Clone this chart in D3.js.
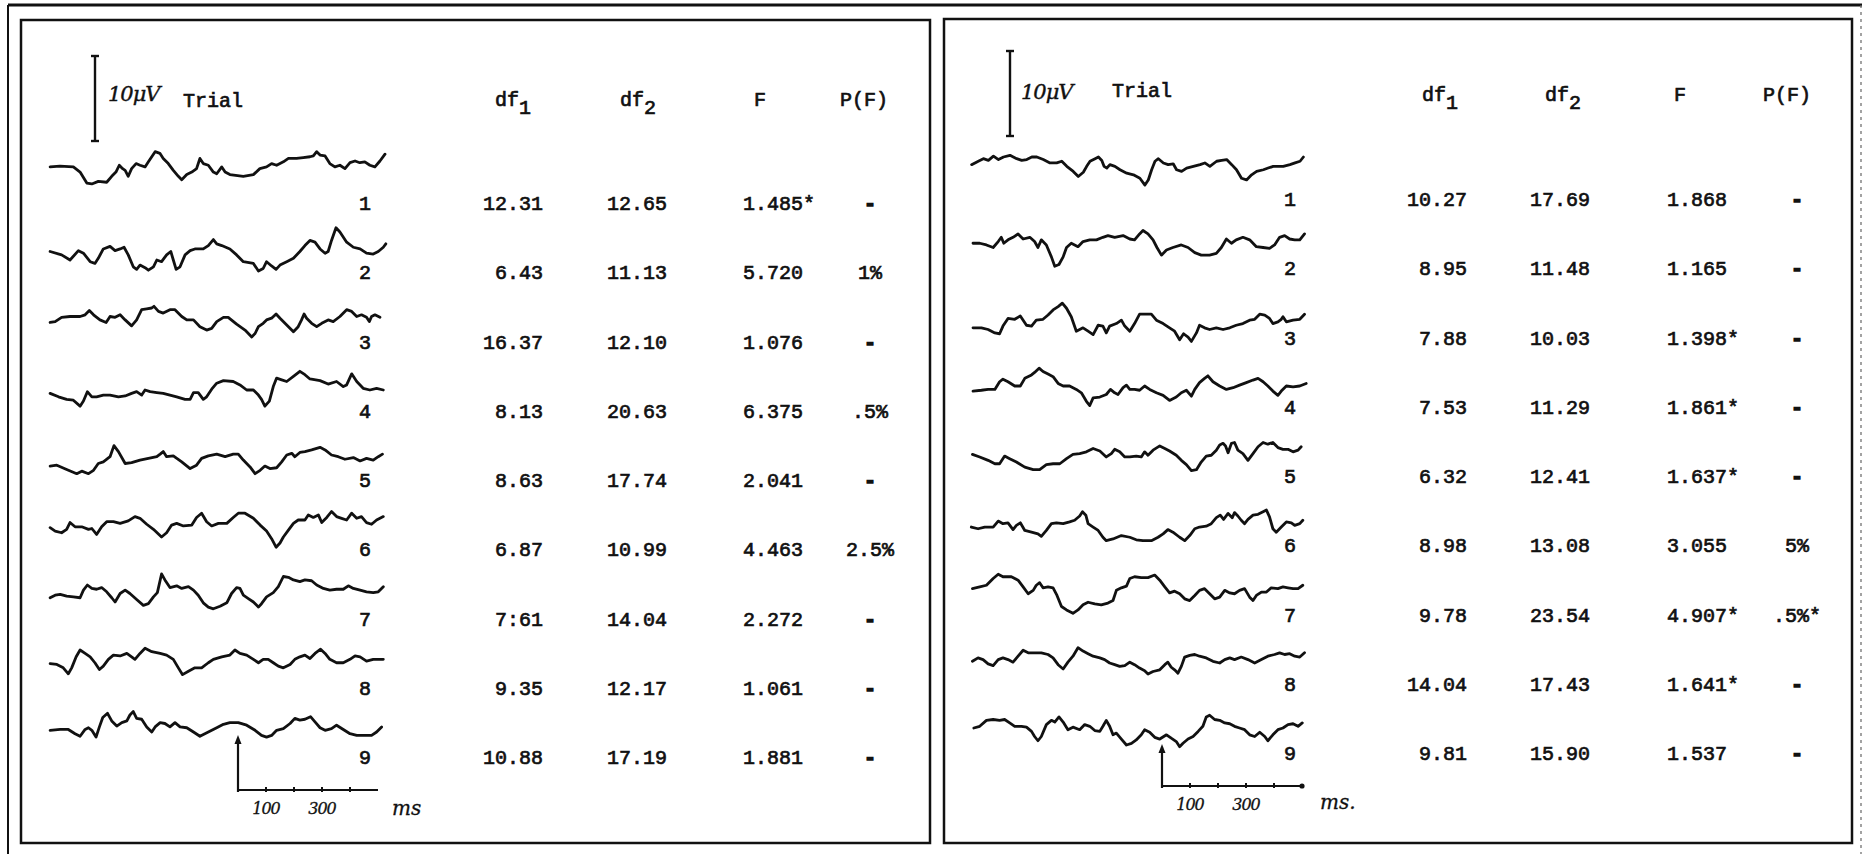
<!DOCTYPE html>
<html>
<head>
<meta charset="utf-8">
<script src="https://cdn.jsdelivr.net/npm/d3@7"></script>
<style>
  body { margin: 0; background: #fff; }
  svg text { fill: #111; }
</style>
</head>
<body>
<script>
// ---- values ----
var trials = ["1", "2", "3", "4", "5", "6", "7", "8", "9"];
var headers = ["df", "df", "F", "P(F)"];

var leftDf1 = ["12.31", "6.43", "16.37", "8.13", "8.63", "6.87", "7:61", "9.35", "10.88"];
var leftDf2 = ["12.65", "11.13", "12.10", "20.63", "17.74", "10.99", "14.04", "12.17", "17.19"];
var leftF = ["1.485*", "5.720", "1.076", "6.375", "2.041", "4.463", "2.272", "1.061", "1.881"];
var leftP = ["-", "1%", "-", ".5%", "-", "2.5%", "-", "-", "-"];

var rightDf1 = ["10.27", "8.95", "7.88", "7.53", "6.32", "8.98", "9.78", "14.04", "9.81"];
var rightDf2 = ["17.69", "11.48", "10.03", "11.29", "12.41", "13.08", "23.54", "17.43", "15.90"];
var rightF = ["1.868", "1.165", "1.398*", "1.861*", "1.637*", "3.055", "4.907*", "1.641*", "1.537"];
var rightP = ["-", "-", "-", "-", "-", "5%", ".5%*", "-", "-"];

var timeLabels = [100, 300];        // ms, written under the time bar
var timeTicks = [100, 200, 300, 400];
var timeEnd = 500;
var barMicroV = 10;

// traces: [ms from stimulus, microvolts]
var leftTraces = [
  [[-671,1.3],[-636,1.4],[-588,1.3],[-564,0.7],[-540,-0.6],[-522,-0.7],[-499,-0.4],[-469,-0.5],[-451,0.2],[-436,0.7],[-424,1.5],[-412,1.1],[-403,0.9],[-392,0.2],[-380,1.1],[-364,1.7],[-350,1.5],[-332,1.3],[-320,1.9],[-308,2.5],[-296,3.1],[-279,2.9],[-267,2.3],[-249,1.7],[-231,0.9],[-213,0.2],[-201,-0.2],[-183,0.4],[-165,0.7],[-148,1.1],[-136,2.3],[-124,1.7],[-106,1.5],[-88,0.7],[-76,0.5],[-58,1.3],[-46,0.7],[-29,0.4],[19,0.2],[55,0.4],[78,1.1],[102,1.3],[120,1.7],[138,1.5],[162,1.9],[180,2.3],[209,2.3],[233,2.4],[257,2.5],[269,2.6],[281,3.1],[293,2.7],[311,2.6],[328,1.7],[346,1.3],[364,1.5],[382,1.1],[400,1.8],[418,2.0],[435,1.8],[453,1.9],[471,1.5],[489,1.3],[507,2.0],[525,2.8]],
  [[-671,-0.5],[-630,-0.9],[-600,-1.5],[-570,-0.4],[-552,-0.7],[-528,-1.7],[-511,-1.9],[-499,-1.3],[-481,-0.2],[-457,0.1],[-439,-0.4],[-421,-0.2],[-407,0],[-392,-0.9],[-374,-2.3],[-362,-2.6],[-350,-2.1],[-332,-2.4],[-320,-2.7],[-302,-2.3],[-290,-1.5],[-273,-1.7],[-255,-0.9],[-240,-0.5],[-231,-1.5],[-221,-2.6],[-207,-2.3],[-189,-0.9],[-171,-0.4],[-154,-0.2],[-124,-0.2],[-106,0.2],[-88,0.9],[-76,0.4],[-58,0.2],[-29,-0.2],[-5,-0.9],[19,-1.7],[55,-1.9],[73,-2.8],[90,-2.5],[102,-1.7],[120,-2.2],[136,-2.6],[150,-2.1],[174,-1.7],[198,-1.3],[221,-0.5],[239,0.2],[257,0.8],[275,0.6],[293,-0.2],[311,-0.7],[322,-0.5],[334,0.8],[350,2.3],[364,1.8],[388,0.6],[412,0],[436,-0.2],[459,-0.7],[483,-0.8],[501,-0.5],[519,0],[528,0.4]],
  [[-671,-0.7],[-653,-0.6],[-630,-0.1],[-600,0],[-564,0],[-546,0.2],[-531,0.7],[-516,0.2],[-493,-0.4],[-471,-0.7],[-457,0],[-439,-0.1],[-421,0.2],[-403,-0.4],[-380,-1.1],[-362,-0.4],[-344,0.8],[-326,0.9],[-308,1.0],[-300,1.2],[-284,0.6],[-267,0.4],[-243,0.8],[-225,0.8],[-201,0],[-183,-0.4],[-159,-0.4],[-136,-1.2],[-112,-1.6],[-94,-1.4],[-76,-0.6],[-52,-0.1],[-35,-0.1],[-5,-0.9],[25,-1.6],[49,-2.4],[61,-2.0],[73,-1.2],[90,-0.8],[102,-0.4],[120,-0.2],[136,0.3],[150,-0.2],[174,-1.0],[198,-1.8],[215,-1.2],[227,-0.4],[236,0.3],[245,-0.2],[263,-0.8],[281,-1.2],[299,-0.8],[322,-0.4],[340,-0.6],[364,0],[388,0.8],[406,0.6],[424,0],[441,0.2],[459,-0.1],[469,-0.6],[477,0],[489,0.2],[507,-0.1]],
  [[-671,-0.9],[-641,-1.3],[-612,-1.6],[-588,-1.7],[-564,-2.4],[-552,-1.8],[-538,-0.7],[-522,-1.3],[-505,-1.3],[-481,-1.1],[-457,-1.1],[-427,-1.3],[-403,-1.2],[-380,-0.9],[-362,-0.7],[-344,-1.1],[-332,-0.5],[-314,-0.7],[-290,-0.8],[-267,-0.9],[-243,-1.1],[-219,-1.3],[-189,-1.6],[-171,-1.6],[-159,-0.8],[-142,-0.8],[-124,-1.6],[-112,-1.3],[-94,-0.4],[-76,0.3],[-52,0.6],[-17,0.5],[7,0.1],[31,-0.5],[55,-0.5],[73,-1.1],[84,-1.6],[96,-2.4],[112,-1.8],[126,-0.1],[138,0.9],[156,0.7],[174,0.5],[198,1.1],[221,1.7],[239,1.3],[257,0.8],[293,0.6],[322,0.2],[352,0.5],[376,-0.1],[388,0.1],[406,1.4],[424,0.5],[447,-0.3],[471,-0.5],[495,-0.3],[519,-0.5]],
  [[-671,-1.3],[-647,-1.2],[-612,-1.7],[-576,-2.2],[-558,-1.9],[-534,-2.2],[-516,-1.8],[-499,-1.0],[-481,-0.8],[-457,-0.2],[-443,1.1],[-427,0.4],[-403,-1.0],[-380,-0.9],[-350,-0.6],[-320,-0.4],[-290,-0.2],[-278,0.1],[-267,0.4],[-255,-0.2],[-231,-0.1],[-201,-0.8],[-171,-1.6],[-148,-1.2],[-130,-0.4],[-106,-0.1],[-76,0.1],[-46,-0.2],[-17,0.1],[1,0.1],[19,-0.6],[43,-1.4],[61,-2.2],[79,-1.8],[96,-1.3],[114,-1.6],[138,-1.5],[156,-0.8],[174,0],[192,0.2],[203,-0.2],[221,0.3],[239,0.4],[263,0.6],[293,0.9],[311,0.6],[334,0],[358,-0.2],[382,-0.5],[412,-0.3],[436,-0.7],[459,-0.4],[483,-0.6],[501,-0.2],[516,0.1]],
  [[-671,-0.4],[-653,-0.8],[-630,-1.0],[-612,-0.6],[-600,0.2],[-582,-0.3],[-558,-0.3],[-534,-0.6],[-522,-0.5],[-505,-1.2],[-487,-0.3],[-469,0.3],[-445,0.3],[-421,0.1],[-392,0.4],[-368,0.9],[-350,0.7],[-326,0],[-302,-0.6],[-273,-1.5],[-255,-1.0],[-237,-0.1],[-219,0.1],[-195,-0.2],[-165,-0.1],[-148,0.8],[-130,1.3],[-112,0.3],[-94,-0.2],[-70,0.1],[-40,0.1],[-17,0.8],[1,1.3],[25,1.3],[55,0.7],[79,-0.1],[102,-0.8],[120,-1.7],[136,-2.7],[150,-2.2],[162,-1.5],[180,-0.7],[198,0.1],[215,0.5],[239,0.5],[251,1.1],[269,0.8],[287,1.1],[299,0.2],[317,0.8],[334,1.5],[352,0.9],[370,0.7],[388,0.5],[406,1.3],[424,0.7],[441,0.9],[459,0.2],[477,0],[495,0.5],[519,0.9]],
  [[-671,-0.5],[-653,-0.2],[-635,-0.1],[-612,-0.3],[-588,-0.4],[-564,-0.5],[-552,0.4],[-538,1.0],[-522,0.6],[-505,0.5],[-487,0.7],[-469,0.2],[-451,-0.5],[-439,-1.0],[-421,0],[-403,0.4],[-386,0],[-362,-0.7],[-338,-1.4],[-320,-1.2],[-302,-0.4],[-288,0.1],[-273,2.3],[-261,1.6],[-243,0.7],[-219,0.9],[-201,0.6],[-177,0.8],[-159,0.4],[-142,-0.2],[-124,-1.1],[-106,-1.6],[-88,-1.8],[-64,-1.5],[-40,-1.1],[-23,0],[-5,0.7],[7,0.6],[19,-0.2],[37,-0.6],[55,-1.0],[73,-1.6],[84,-1.2],[102,-0.4],[126,0.1],[144,0.8],[162,2.0],[180,1.9],[198,1.6],[221,1.4],[239,1.6],[263,1.5],[281,1.0],[305,0.6],[328,0.4],[352,0.5],[376,0.5],[394,0.9],[412,0.6],[436,0.4],[459,0.2],[483,0.1],[501,0.2],[519,0.8]],
  [[-671,-0.1],[-647,-0.2],[-624,-0.6],[-606,-1.3],[-594,-0.6],[-578,0.7],[-564,1.5],[-546,1.1],[-528,0.7],[-511,0],[-495,-0.8],[-481,-0.4],[-463,0.4],[-445,0.9],[-421,0.8],[-397,1.1],[-380,0.7],[-368,0.4],[-350,1.1],[-332,1.7],[-308,1.3],[-278,1.1],[-255,0.9],[-231,0.4],[-213,-0.6],[-198,-1.4],[-177,-1.0],[-154,-0.6],[-130,-0.6],[-106,0],[-88,0.4],[-58,0.7],[-29,0.9],[-11,1.5],[7,1.1],[31,0.9],[55,0.4],[73,0],[90,0.4],[108,0.4],[126,0],[144,-0.4],[162,-0.6],[186,-0.2],[203,0.4],[221,0.7],[239,0.9],[257,0.5],[275,1.1],[295,1.6],[311,1.1],[328,0.4],[352,0],[376,0],[400,0.4],[418,0.8],[436,0.7],[459,0.2],[483,0.4],[501,0.4],[519,0.4]],
  [[-671,0.2],[-635,0.3],[-606,0.3],[-582,-0.2],[-564,-0.5],[-546,0.3],[-534,0.5],[-522,0.2],[-507,-0.6],[-495,0.6],[-483,1.7],[-466,2.2],[-451,1.3],[-433,0.7],[-415,1.1],[-397,1.3],[-386,2.0],[-374,2.4],[-362,1.6],[-344,1.5],[-326,0.6],[-308,0],[-296,0.6],[-278,1.1],[-261,1.0],[-243,0.6],[-225,1.1],[-207,0.6],[-183,0.5],[-159,0],[-136,-0.5],[-106,0],[-76,0.5],[-52,0.9],[-29,1.1],[1,1.1],[31,0.8],[61,0.2],[84,-0.4],[102,-0.6],[120,-0.4],[138,0.2],[162,0.4],[186,1.0],[203,1.6],[221,1.4],[239,1.5],[259,1.8],[275,1.2],[293,0.5],[311,0.2],[334,0.4],[352,0.8],[376,0.3],[400,-0.2],[424,-0.4],[453,-0.4],[477,-0.4],[495,0],[513,0.6]]
];

var rightTraces = [
  [[-680,1.1],[-656,1.5],[-638,1.8],[-620,1.6],[-602,2.1],[-584,1.7],[-566,2.0],[-543,2.2],[-519,1.8],[-501,1.6],[-483,1.7],[-465,2.0],[-447,2.0],[-424,1.7],[-400,1.3],[-376,1.3],[-358,1.5],[-340,0.9],[-317,0.3],[-299,-0.3],[-281,0.2],[-269,0.9],[-257,1.5],[-239,1.8],[-227,2.0],[-215,1.6],[-207,0.9],[-197,0.7],[-186,1.1],[-168,0.9],[-150,0.5],[-126,0.1],[-102,-0.1],[-79,-0.5],[-61,-1.3],[-49,-0.7],[-37,0.5],[-25,1.5],[-13,1.8],[5,1.3],[22,1.1],[40,1.2],[52,0.5],[70,0.3],[88,0.7],[112,0.9],[136,1.1],[153,1.3],[171,0.9],[195,1.5],[213,1.6],[231,1.7],[249,1.1],[266,0.5],[284,-0.5],[302,-0.7],[320,-0.1],[338,0.3],[362,0.5],[379,0.7],[397,0.9],[415,0.9],[433,0.9],[457,1.1],[475,1.3],[493,1.5],[505,2.0]],
  [[-675,0],[-651,0],[-627,-0.2],[-603,-0.5],[-585,0.2],[-574,0.7],[-565,0],[-550,0.4],[-532,0.7],[-514,1.1],[-496,0.5],[-472,0.7],[-455,0.2],[-443,-0.5],[-431,0.4],[-413,-0.2],[-395,-1.6],[-383,-2.7],[-368,-2.5],[-353,-1.6],[-341,-0.5],[-324,0],[-300,-0.4],[-282,0.2],[-258,0.4],[-234,0.4],[-211,0.7],[-193,0.9],[-169,0.7],[-139,0.9],[-115,0.5],[-98,0.4],[-80,1.1],[-68,1.5],[-50,1.1],[-32,0.4],[-18,-0.5],[-2,-1.4],[16,-0.8],[39,-0.5],[69,-0.2],[93,-0.5],[117,-1.1],[140,-1.4],[170,-1.4],[194,-1.2],[212,-0.5],[230,0.5],[248,0],[265,0.4],[289,0.7],[313,0.4],[337,-0.4],[361,-0.5],[384,-0.6],[402,-0.2],[420,0.7],[438,0.9],[456,0.5],[474,0.4],[492,0.4],[509,1.1]],
  [[-675,-1.8],[-645,-1.8],[-621,-2.0],[-597,-2.4],[-580,-2.5],[-568,-1.6],[-550,-0.7],[-526,-0.8],[-506,-0.4],[-484,-1.5],[-466,-1.6],[-449,-0.9],[-425,-0.8],[-407,-0.3],[-389,0.3],[-371,0.7],[-356,1.1],[-341,0.5],[-324,-0.5],[-306,-2.2],[-282,-1.8],[-264,-2.2],[-246,-2.6],[-228,-1.5],[-211,-1.6],[-199,-2.4],[-187,-1.6],[-163,-1.3],[-145,-0.9],[-133,-1.6],[-115,-2.2],[-98,-1.3],[-80,-0.2],[-56,-0.2],[-38,-0.2],[-20,-0.9],[4,-1.3],[27,-1.8],[45,-2.2],[63,-3.2],[77,-2.5],[93,-2.9],[105,-3.4],[123,-2.4],[134,-1.5],[152,-1.8],[170,-2.0],[194,-1.8],[218,-2.0],[242,-1.8],[265,-1.5],[289,-1.3],[313,-0.9],[331,-0.8],[349,-0.2],[367,-0.3],[384,-0.7],[396,-1.3],[414,-1.1],[426,-0.8],[432,-0.5],[444,-1.1],[468,-0.9],[492,-0.8],[509,-0.2]],
  [[-675,-1.1],[-645,-1.0],[-621,-0.9],[-597,-0.9],[-580,0],[-568,0.3],[-550,0],[-526,-0.5],[-506,-0.5],[-490,0.4],[-466,0.8],[-455,1.1],[-439,1.6],[-425,1.2],[-407,0.9],[-389,0.6],[-371,-0.2],[-353,-0.5],[-330,-0.5],[-306,-0.9],[-288,-1.3],[-270,-2.3],[-258,-2.8],[-246,-1.9],[-222,-1.8],[-199,-1.5],[-184,-0.9],[-169,-1.3],[-157,-1.5],[-139,-0.7],[-127,-0.4],[-115,-0.9],[-98,-0.9],[-80,-1.0],[-62,-0.5],[-44,-0.9],[-20,-1.3],[4,-1.6],[27,-2.2],[51,-1.8],[69,-1.3],[87,-1.0],[105,-1.7],[117,-0.9],[134,-0.1],[152,0.4],[164,0.7],[182,0],[206,-0.5],[230,-0.9],[254,-0.7],[277,-0.4],[301,-0.1],[325,0.2],[343,0.4],[361,0],[378,-0.5],[396,-1.1],[414,-1.6],[426,-1.1],[444,-0.5],[468,-0.6],[492,-0.5],[515,-0.2]],
  [[-677,-0.4],[-651,-0.7],[-621,-1.1],[-597,-1.5],[-580,-1.5],[-562,-0.6],[-544,-0.9],[-520,-1.3],[-490,-1.9],[-460,-2.2],[-437,-2.2],[-413,-1.6],[-389,-1.5],[-365,-1.5],[-341,-0.9],[-318,-0.4],[-294,-0.3],[-270,-0.1],[-246,0.3],[-222,0],[-199,-0.7],[-181,-0.3],[-169,0.2],[-151,-0.1],[-133,-0.7],[-115,-0.7],[-92,-0.6],[-74,-0.7],[-62,-0.1],[-50,-0.5],[-32,0.1],[-8,0.6],[10,0.3],[27,0],[51,-0.5],[69,-1.1],[87,-1.6],[105,-2.3],[123,-2.2],[140,-1.3],[158,-0.6],[176,-0.5],[194,0.1],[206,0.7],[218,0.9],[227,0.6],[236,-0.2],[248,0.9],[259,1.0],[271,0.1],[289,-0.3],[307,-1.1],[325,-0.3],[343,0.5],[361,1.0],[378,0.8],[396,1.0],[414,0.4],[432,0.2],[450,0.2],[468,-0.1],[486,0.1],[497,0.5]],
  [[-681,-0.8],[-657,-1.0],[-633,-0.8],[-603,-0.8],[-585,-0.1],[-568,-0.4],[-550,-0.3],[-532,-1.1],[-520,-0.6],[-506,-0.3],[-490,-1.2],[-466,-1.4],[-443,-1.6],[-431,-1.9],[-413,-1.2],[-395,-0.4],[-377,-0.3],[-353,-0.4],[-330,-0.2],[-312,0],[-294,0.5],[-284,1.0],[-272,0.6],[-264,-0.4],[-246,-0.8],[-228,-1.2],[-211,-2.0],[-199,-2.4],[-175,-2.2],[-145,-1.8],[-115,-2.0],[-92,-2.3],[-68,-2.4],[-38,-2.4],[-14,-2.0],[4,-1.6],[21,-1.1],[39,-1.4],[63,-2.0],[81,-2.4],[99,-1.8],[117,-1.0],[134,-0.8],[158,-0.7],[176,-0.4],[194,0.3],[208,0.6],[220,0.1],[236,0.8],[251,0.3],[259,0.9],[271,0.5],[283,0],[295,-0.4],[307,0.1],[325,0.6],[343,0.7],[361,1.0],[373,1.2],[384,0.4],[396,-1.0],[408,-1.4],[426,-0.8],[444,-0.2],[462,-0.3],[474,-0.6],[492,-0.4],[503,0]],
  [[-677,0.1],[-651,0.3],[-627,0.5],[-603,1.3],[-585,1.8],[-568,1.5],[-538,1.5],[-514,1.1],[-496,0.3],[-478,-0.5],[-460,-0.1],[-449,0.5],[-437,0.8],[-425,0.2],[-407,0.3],[-389,0.2],[-375,-0.7],[-359,-2.0],[-341,-2.4],[-318,-2.8],[-300,-2.4],[-282,-1.8],[-264,-1.5],[-240,-1.7],[-217,-1.8],[-193,-1.6],[-175,-1.3],[-163,-0.1],[-145,0.2],[-127,0.4],[-115,1.3],[-98,1.5],[-74,1.4],[-50,1.4],[-26,1.7],[-8,1.1],[10,0.3],[27,-0.4],[45,-0.2],[63,-0.5],[81,-1.1],[99,-1.3],[117,-0.7],[134,-0.1],[152,0.1],[170,-0.5],[188,-1.1],[206,-0.9],[224,-0.1],[242,-0.4],[259,-0.5],[277,-0.1],[295,0.1],[313,-0.9],[325,-1.3],[337,-0.7],[355,-0.3],[373,-0.3],[390,0.2],[414,0.1],[432,0.3],[450,0.2],[468,0.1],[486,0.1],[503,0.5]],
  [[-677,-0.3],[-657,0.1],[-639,-0.1],[-621,-0.6],[-603,-0.8],[-585,-0.1],[-568,0.1],[-550,-0.1],[-532,-0.4],[-514,0.3],[-496,1.0],[-478,0.7],[-455,0.7],[-431,0.7],[-407,0.5],[-389,0.1],[-371,-0.7],[-353,-1.2],[-336,-0.4],[-318,0.3],[-300,1.3],[-282,0.9],[-264,0.6],[-246,0.3],[-222,0.1],[-205,-0.1],[-187,-0.5],[-169,-0.7],[-151,-0.9],[-133,-0.8],[-115,-0.4],[-98,-0.7],[-80,-1.1],[-62,-1.4],[-50,-1.8],[-32,-1.5],[-8,-1.3],[10,-0.7],[21,-0.4],[33,-1.0],[45,-1.3],[57,-1.7],[69,-0.9],[81,0.2],[99,0.4],[117,0.5],[134,0.3],[158,0.1],[182,-0.3],[206,-0.5],[224,-0.1],[242,0.1],[259,-0.1],[283,0.2],[307,-0.1],[331,-0.5],[355,-0.1],[378,0.3],[402,0.5],[420,0.7],[438,0.5],[456,0.6],[474,0.3],[492,0.2],[509,0.7]],
  [[-672,0],[-651,0.2],[-627,0.9],[-603,1.0],[-580,0.9],[-562,1.0],[-544,0.6],[-526,0.2],[-502,0.2],[-484,0.1],[-466,-0.4],[-455,-1.0],[-443,-1.5],[-431,-1.0],[-413,0.4],[-395,0.9],[-383,0.7],[-368,1.3],[-353,0.7],[-336,-0.2],[-318,0.1],[-294,-0.2],[-276,0.4],[-258,0.2],[-240,-0.3],[-222,-0.4],[-211,0.2],[-199,0.9],[-187,0.2],[-175,-0.8],[-163,-0.6],[-145,-1.3],[-127,-2.0],[-109,-1.8],[-92,-1.4],[-74,-0.8],[-62,-0.2],[-44,-0.5],[-26,-1.1],[-8,-1.3],[16,-0.8],[33,-1.2],[51,-1.6],[63,-2.2],[75,-1.8],[93,-1.3],[111,-1.0],[129,-0.4],[146,0.2],[158,1.3],[170,1.5],[188,1.0],[206,0.9],[224,0.6],[242,0.5],[259,0.2],[277,0],[295,-0.2],[313,-0.8],[331,-1.0],[349,-0.5],[367,-1.0],[378,-1.5],[396,-0.8],[414,-0.2],[432,0],[450,0.4],[468,0.5],[486,0.2],[501,0.6]]
];

// ---- layout ----
var width = 1866, height = 854;
var mono = "'Liberation Mono', 'DejaVu Sans Mono', monospace";
var hand = "'DejaVu Serif', serif";
var ink = "#111";

var panels = [
  { box: [21, 20, 909, 823], rows: [203, 757], arrowX: 238, arrowLen: 55, trialX: 365,
    barX: 95, barBottom: 141, muX: 108, muY: 101, trialLbl: [183, 107],
    hdrY: 106, hdrX: [495, 620, 760, 840], colX: [543, 667, 743, 870],
    msLbl: [392, 815, "ms"], endDot: false,
    traces: leftTraces, cols: [leftDf1, leftDf2, leftF, leftP] },
  { box: [944, 19, 908, 824], rows: [199, 753], arrowX: 1162, arrowLen: 42, trialX: 1290,
    barX: 1010, barBottom: 136, muX: 1021, muY: 99, trialLbl: [1112, 97],
    hdrY: 101, hdrX: [1422, 1545, 1680, 1763], colX: [1467, 1590, 1667, 1797],
    msLbl: [1320, 809, "ms."], endDot: true,
    traces: rightTraces, cols: [rightDf1, rightDf2, rightF, rightP] }
];

var svg = d3.select("body").append("svg")
    .attr("width", width)
    .attr("height", height);

svg.append("rect").attr("width", width).attr("height", height).attr("fill", "#fff");

// outer frame of the page
svg.append("line").attr("x1", 8).attr("x2", 1862).attr("y1", 5).attr("y2", 5)
    .attr("stroke", ink).attr("stroke-width", 3);
svg.append("line").attr("x1", 8).attr("x2", 8).attr("y1", 5).attr("y2", height)
    .attr("stroke", ink).attr("stroke-width", 2);
svg.append("line").attr("x1", 1861).attr("x2", 1861).attr("y1", 5).attr("y2", height)
    .attr("stroke", "#666").attr("stroke-width", 1.2).attr("stroke-dasharray", "3,4");

// amplitude scale: 10 microvolts = 85 px
var amp = d3.scaleLinear().domain([0, barMicroV]).range([0, -85]);

function typed(sel) {
    return sel.attr("font-family", mono).attr("font-size", 20)
        .attr("stroke", ink).attr("stroke-width", 0.7);
}

function drawPanel(p) {
    var g = svg.append("g");

    g.append("rect")
        .attr("x", p.box[0]).attr("y", p.box[1])
        .attr("width", p.box[2]).attr("height", p.box[3])
        .attr("fill", "none").attr("stroke", ink).attr("stroke-width", 2.5);

    var x = d3.scaleLinear().domain([0, 100]).range([p.arrowX, p.arrowX + 28]);
    var row = d3.scaleLinear().domain([0, trials.length - 1]).range(p.rows);

    // traces
    var line = d3.line()
        .x(function(d) { return x(d[0]); });
    p.traces.forEach(function(tr, i) {
        var base = row(i) - 25;
        line.y(function(d) { return base + amp(d[1]); });
        g.append("path")
            .attr("d", line(tr))
            .attr("fill", "none")
            .attr("stroke", ink)
            .attr("stroke-width", 2.8)
            .attr("stroke-linejoin", "round")
            .attr("stroke-linecap", "round");
    });

    // 10 uV calibration bar
    var y0 = p.barBottom, y1 = p.barBottom + amp(barMicroV);
    g.append("line").attr("x1", p.barX).attr("x2", p.barX).attr("y1", y0).attr("y2", y1)
        .attr("stroke", ink).attr("stroke-width", 2.4);
    [y0, y1].forEach(function(yy) {
        g.append("line").attr("x1", p.barX - 4).attr("x2", p.barX + 4).attr("y1", yy).attr("y2", yy)
            .attr("stroke", ink).attr("stroke-width", 2.4);
    });
    g.append("text")
        .attr("x", p.muX).attr("y", p.muY)
        .attr("font-family", hand).attr("font-style", "italic")
        .attr("font-size", 21).attr("letter-spacing", -1)
        .attr("stroke", ink).attr("stroke-width", 0.4)
        .text(barMicroV + "\u03bcV");

    // header
    typed(g.append("text"))
        .attr("x", p.trialLbl[0]).attr("y", p.trialLbl[1])
        .text("Trial");

    headers.forEach(function(h, k) {
        var t = typed(g.append("text"))
            .attr("x", p.hdrX[k]).attr("y", p.hdrY)
            .attr("text-anchor", k == 2 ? "middle" : "start");
        t.append("tspan").text(h);
        if (k < 2) {
            t.append("tspan").attr("dy", 8).text(String(k + 1));
        }
    });

    // trial numbers and table values
    trials.forEach(function(n, i) {
        var yy = row(i) + 7;
        typed(g.append("text"))
            .attr("x", p.trialX).attr("y", yy)
            .attr("text-anchor", "middle")
            .text(n);
        p.cols.forEach(function(col, k) {
            var v = col[i];
            typed(g.append("text"))
                .attr("x", p.colX[k]).attr("y", yy)
                .attr("text-anchor", k < 2 ? "end" : (k == 2 ? "start" : "middle"))
                .attr("font-weight", v == "-" ? "bold" : "normal")
                .attr("stroke-width", v == "-" ? 1.4 : 0.7)
                .text(v);
        });
    });

    // time bar with stimulus arrow
    var axisY = row(trials.length - 1) + 33;
    g.append("line")
        .attr("x1", x(0)).attr("x2", x(timeEnd)).attr("y1", axisY).attr("y2", axisY)
        .attr("stroke", ink).attr("stroke-width", 2.2);
    g.selectAll(".tick").data(timeTicks).enter().append("line")
        .attr("x1", function(d) { return x(d); }).attr("x2", function(d) { return x(d); })
        .attr("y1", axisY - 3).attr("y2", axisY + 2)
        .attr("stroke", ink).attr("stroke-width", 2);
    if (p.endDot) {
        g.append("circle").attr("cx", x(timeEnd)).attr("cy", axisY).attr("r", 2.6).attr("fill", ink);
    }
    g.append("line")
        .attr("x1", x(0)).attr("x2", x(0)).attr("y1", axisY + 2).attr("y2", axisY - p.arrowLen + 5)
        .attr("stroke", ink).attr("stroke-width", 2.2);
    g.append("path")
        .attr("d", "M" + x(0) + "," + (axisY - p.arrowLen) + "l-3.5,9l7,0z")
        .attr("fill", ink);

    timeLabels.forEach(function(t) {
        g.append("text")
            .attr("x", x(t)).attr("y", axisY + 24)
            .attr("text-anchor", "middle")
            .attr("font-family", hand).attr("font-style", "italic")
            .attr("font-size", 16).attr("letter-spacing", -1)
            .attr("stroke", ink).attr("stroke-width", 0.3)
            .text(t);
    });
    g.append("text")
        .attr("x", p.msLbl[0]).attr("y", p.msLbl[1])
        .attr("font-family", hand).attr("font-style", "italic")
        .attr("font-size", 20)
        .attr("stroke", ink).attr("stroke-width", 0.3)
        .text(p.msLbl[2]);
}

panels.forEach(drawPanel);
</script>
</body>
</html>
